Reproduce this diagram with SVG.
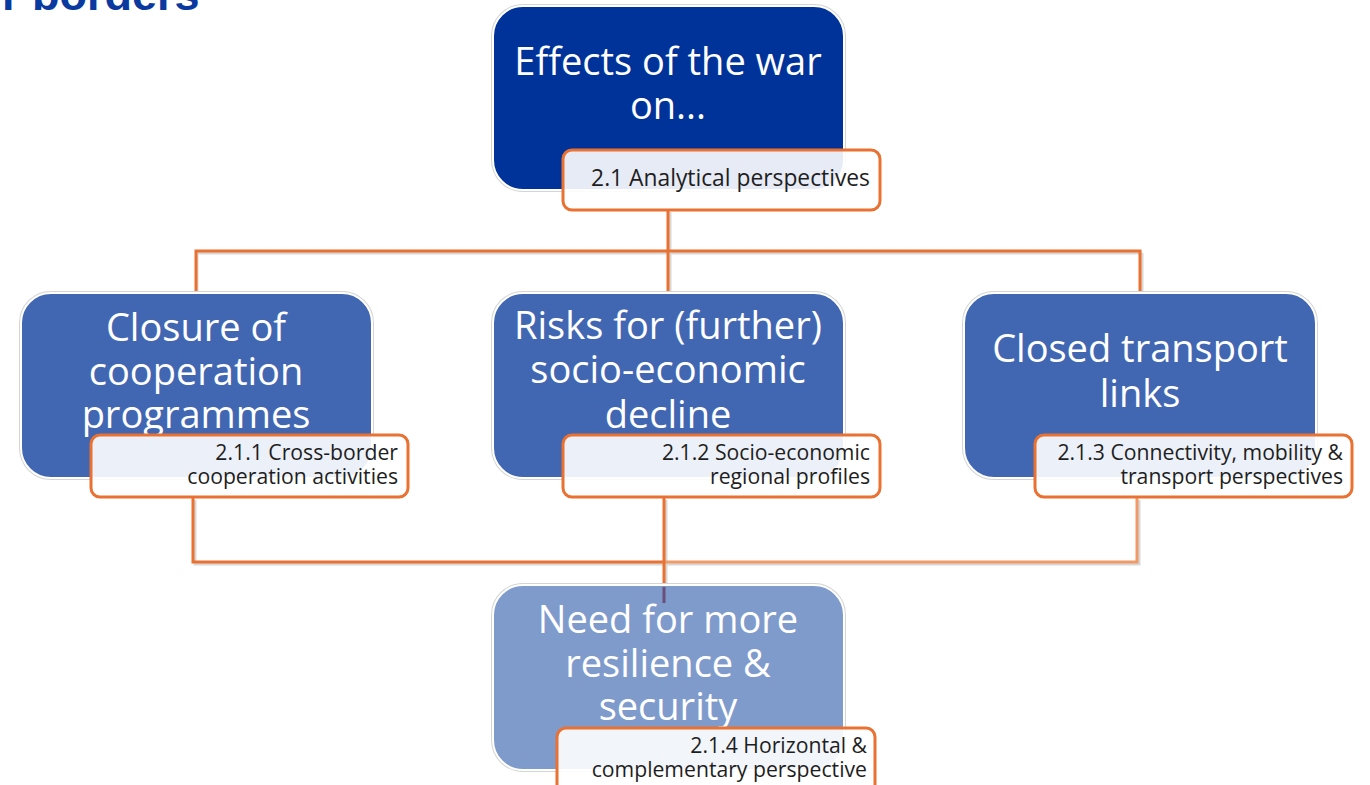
<svg xmlns="http://www.w3.org/2000/svg" width="1370" height="785" viewBox="0 0 1370 785">
  <style>
    .title { font-family: "Liberation Sans", Arial, sans-serif; font-weight: bold; font-size: 45px; fill: #0a39a0; }
    .node-halo { fill: none; stroke: #d4d4d4; stroke-width: 4; }
    .node-box { stroke: #ffffff; stroke-width: 2; }
    .n-dark { fill: #003399; }
    .n-mid { fill: #4267b2; }
    .n-light { fill: #7f9bcc; }
    .ntext { font-family: "Open Sans", "Liberation Sans", sans-serif; font-size: 38px; font-weight: 500; fill: #ffffff; text-anchor: middle; }
    .lbl-box { fill: #ffffff; fill-opacity: 0.9; stroke: #e97132; stroke-width: 3; }
    .ltext { font-family: "Open Sans", "Liberation Sans", sans-serif; font-size: 21.2px; font-weight: 500; fill: #1e1e1e; text-anchor: end; }
    .ltext-big { font-size: 22.8px; }
    .conn { fill: none; stroke: #e97132; stroke-width: 3; stroke-linecap: square; }
    .conn-soft { fill: none; stroke: #f09a68; stroke-width: 3; stroke-linecap: square; }
    .conn-shadow { fill: none; stroke: #d8d8d8; stroke-width: 3; }
  </style>

  <text class="title" x="2" y="10">r borders</text>

  <g id="connectors">
    <path class="conn-shadow" d="M670,212 V253 M197,253 H1142 M197,253 V293 M670,253 V293 M1142,253 V293"/>
    <path class="conn" d="M668,211 V251 M196,251 H1140 M196,251 V292 M668,251 V292 M1140,251 V292"/>
    <path class="conn-shadow" d="M195,500 V564 H1139 V500 M666,500 V586"/>
    <path class="conn" d="M193,499 V562 H664"/>
    <path class="conn-soft" d="M664,562 H1137 V499"/>
    <path class="conn" d="M664,499 V586"/>
  </g>

  <g id="node-effects">
    <rect class="node-halo" x="493" y="6" width="351" height="184" rx="30"/>
    <rect class="node-box n-dark" x="493" y="6" width="351" height="184" rx="30"/>
    <text class="ntext" x="668" y="75">Effects of the war</text>
    <text class="ntext" x="668" y="119">on...</text>
    <rect class="lbl-box" x="563" y="150" width="317" height="60" rx="9"/>
    <text class="ltext ltext-big" x="870" y="186">2.1 Analytical perspectives</text>
  </g>

  <g id="node-closure">
    <rect class="node-halo" x="21" y="293" width="351" height="185" rx="30"/>
    <rect class="node-box n-mid" x="21" y="293" width="351" height="185" rx="30"/>
    <text class="ntext" x="196" y="341">Closure of</text>
    <text class="ntext" x="196" y="385">cooperation</text>
    <text class="ntext" x="196" y="428">programmes</text>
    <rect class="lbl-box" x="91" y="435" width="317" height="62" rx="9"/>
    <text class="ltext" x="398" y="460">2.1.1 Cross-border</text>
    <text class="ltext" x="398" y="484">cooperation activities</text>
  </g>

  <g id="node-risks">
    <rect class="node-halo" x="493" y="293" width="351" height="185" rx="30"/>
    <rect class="node-box n-mid" x="493" y="293" width="351" height="185" rx="30"/>
    <text class="ntext" x="668" y="339">Risks for (further)</text>
    <text class="ntext" x="668" y="383">socio-economic</text>
    <text class="ntext" x="668" y="428">decline</text>
    <rect class="lbl-box" x="563" y="435" width="317" height="62" rx="9"/>
    <text class="ltext" x="870" y="460">2.1.2 Socio-economic</text>
    <text class="ltext" x="870" y="484">regional profiles</text>
  </g>

  <g id="node-transport">
    <rect class="node-halo" x="964" y="293" width="352" height="185" rx="30"/>
    <rect class="node-box n-mid" x="964" y="293" width="352" height="185" rx="30"/>
    <text class="ntext" x="1140" y="362">Closed transport</text>
    <text class="ntext" x="1140" y="407">links</text>
    <rect class="lbl-box" x="1035" y="435" width="317" height="62" rx="9"/>
    <text class="ltext" x="1343" y="460">2.1.3 Connectivity, mobility &amp;</text>
    <text class="ltext" x="1343" y="484">transport perspectives</text>
  </g>

  <g id="node-resilience">
    <rect class="node-halo" x="493" y="585" width="351" height="185" rx="30"/>
    <rect class="node-box n-light" x="493" y="585" width="351" height="185" rx="30"/>
    <line x1="664" y1="587" x2="664" y2="603" stroke="#6a4f78" stroke-width="3"/>
    <text class="ntext" x="668" y="633">Need for more</text>
    <text class="ntext" x="668" y="677">resilience &amp;</text>
    <text class="ntext" x="668" y="720">security</text>
    <rect class="lbl-box" x="557" y="728" width="318" height="66" rx="9"/>
    <text class="ltext" x="867" y="753">2.1.4 Horizontal &amp;</text>
    <text class="ltext" x="867" y="777">complementary perspective</text>
  </g>
</svg>
